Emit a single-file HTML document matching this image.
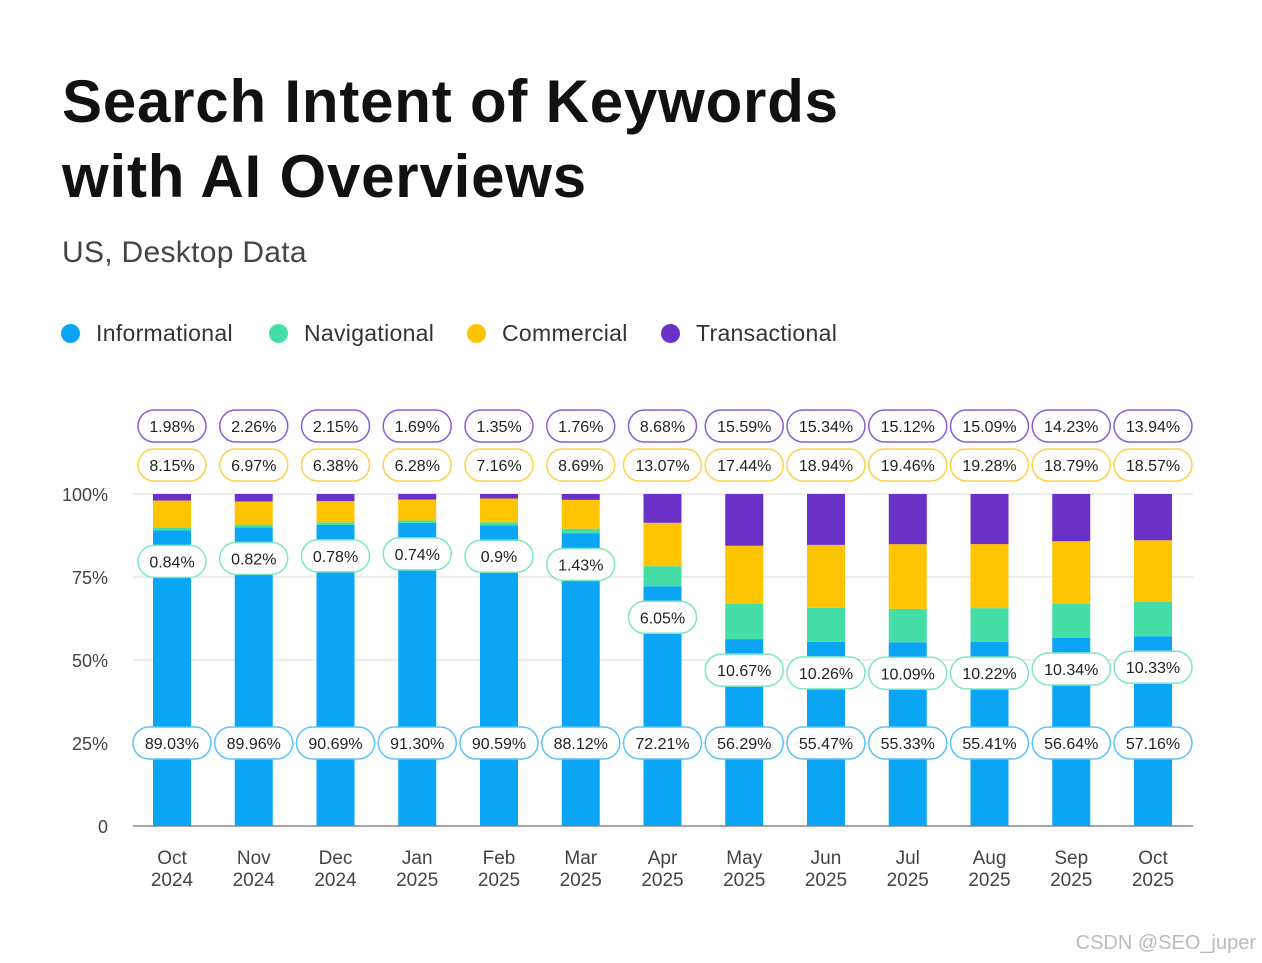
<!DOCTYPE html>
<html><head><meta charset="utf-8"><style>
body{margin:0;background:#fff;width:1262px;height:963px;overflow:hidden;font-family:"Liberation Sans",sans-serif;position:relative}
.t{position:absolute;left:62px;top:64px;font-size:60px;font-weight:bold;line-height:75px;color:#111;letter-spacing:0.8px}
.s{position:absolute;left:62px;top:236px;font-size:30px;color:#444;letter-spacing:0.3px}
.lg{position:absolute;top:320px;font-size:23px;color:#333;display:flex;align-items:center;letter-spacing:0.3px}
.lg i{display:inline-block;width:19px;height:19px;border-radius:50%;margin-right:16px}
.wm{position:absolute;right:6px;bottom:8px;font-size:20px;color:#bbb}
</style></head><body>
<div class="t">Search Intent of Keywords<br>with AI Overviews</div>
<div class="s">US, Desktop Data</div>
<div class="lg" style="left:61px"><i style="background:#0aa5f5"></i>Informational</div>
<div class="lg" style="left:269px"><i style="background:#45dea6"></i>Navigational</div>
<div class="lg" style="left:467px"><i style="background:#ffc400"></i>Commercial</div>
<div class="lg" style="left:661px"><i style="background:#6a30c8"></i>Transactional</div>
<svg id="c" width="1262" height="963" style="position:absolute;left:0;top:0"></svg>
<div class="wm">CSDN @SEO_juper</div>
<script>
const months=["Oct","Nov","Dec","Jan","Feb","Mar","Apr","May","Jun","Jul","Aug","Sep","Oct"];
const years=["2024","2024","2024","2025","2025","2025","2025","2025","2025","2025","2025","2025","2025"];
const informational=[89.03,89.96,90.69,91.30,90.59,88.12,72.21,56.29,55.47,55.33,55.41,56.64,57.16];
const navigational=[0.84,0.82,0.78,0.74,0.9,1.43,6.05,10.67,10.26,10.09,10.22,10.34,10.33];
const commercial=[8.15,6.97,6.38,6.28,7.16,8.69,13.07,17.44,18.94,19.46,19.28,18.79,18.57];
const transactional=[1.98,2.26,2.15,1.69,1.35,1.76,8.68,15.59,15.34,15.12,15.09,14.23,13.94];
const infoLabels=["89.03%","89.96%","90.69%","91.30%","90.59%","88.12%","72.21%","56.29%","55.47%","55.33%","55.41%","56.64%","57.16%"];
const navLabels=["0.84%","0.82%","0.78%","0.74%","0.9%","1.43%","6.05%","10.67%","10.26%","10.09%","10.22%","10.34%","10.33%"];
const comLabels=["8.15%","6.97%","6.38%","6.28%","7.16%","8.69%","13.07%","17.44%","18.94%","19.46%","19.28%","18.79%","18.57%"];
const traLabels=["1.98%","2.26%","2.15%","1.69%","1.35%","1.76%","8.68%","15.59%","15.34%","15.12%","15.09%","14.23%","13.94%"];
const yTicks=[0,25,50,75,100];
const yTickLabels=["0","25%","50%","75%","100%"];
const svg=document.getElementById('c');const NS="http://www.w3.org/2000/svg";
const y=v=>826-v*3.32;const x=i=>172+i*81.75;
function mk(t,a,p){const e=document.createElementNS(NS,t);for(const k in a)e.setAttribute(k,a[k]);(p||svg).appendChild(e);return e;}
yTicks.forEach((v,i)=>{
 if(v>0){const g=mk('line',{x1:133,x2:1193,y1:y(v),y2:y(v),stroke:'#e6e6e6','stroke-width':1.5});
 
 }
 const t=mk('text',{x:108,y:y(v)+7,'text-anchor':'end','font-size':18,fill:'#444'});t.textContent=yTickLabels[i];
 
 
});
const ax=mk('line',{x1:133,x2:1193,y1:826,y2:826,stroke:'#888','stroke-width':1.5});


function pill(cx,cy,txt,col){
 const g=mk('g',{});
 
 
 const w=txt.length>5?78:68;
 mk('rect',{x:cx-w/2,y:cy-16,width:w,height:32,rx:16,fill:'#fff',stroke:col,'stroke-width':1.5},g);
 const t=mk('text',{x:cx,y:cy+6,'text-anchor':'middle','font-size':16,fill:'#222'},g);t.textContent=txt;
}
months.forEach((m,i)=>{
 const cx=x(i),bw=38;
 const segs=[[informational[i],'#0aa5f5','bar-informational'],[navigational[i],'#45dea6','bar-navigational'],[commercial[i],'#ffc400','bar-commercial'],[transactional[i],'#6a30c8','bar-transactional']];
 let acc=0;
 segs.forEach(s=>{const r=mk('rect',{x:cx-bw/2,y:y(acc+s[0]),width:bw,height:s[0]*3.32,fill:s[1]});
  
  
  acc+=s[0];});
 pill(cx,426,traLabels[i],'#8a5fd6');
 pill(cx,465,comLabels[i],'#ffd04a');
 pill(cx,y(informational[i])+31,navLabels[i],'#7fe6c2');
 pill(cx,743,infoLabels[i],'#5cc4f8');
 [m,years[i]].forEach((s,k)=>{const t=mk('text',{x:cx,y:864+k*22,'text-anchor':'middle','font-size':19,fill:'#444'});t.textContent=s;
  
  });
});
</script>
</body></html>
